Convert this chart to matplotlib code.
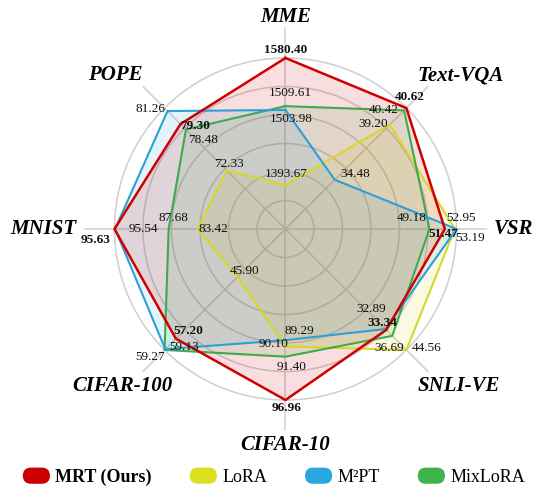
import numpy as np
import matplotlib
matplotlib.use('Agg')
import matplotlib.pyplot as plt
from matplotlib.patches import Patch, FancyBboxPatch
from matplotlib.legend_handler import HandlerPatch

plt.rcParams['font.family'] = ['Liberation Serif', 'DejaVu Serif']

# Benchmarks, clockwise from the top -----------------------------------------
categories = ['MME', 'Text-VQA', 'VSR', 'SNLI-VE', 'CIFAR-10', 'CIFAR-100', 'MNIST', 'POPE']

mrt = [1580.40, 40.62, 51.47, 33.34, 96.96, 57.20, 95.63, 79.30]
lora = [1393.67, 39.20, 52.95, 44.56, 90.10, 45.90, 83.42, 72.33]
m2pt = [1503.98, 34.48, 53.19, 32.89, 89.29, 59.13, 95.54, 81.26]
mixlora = [1509.61, 40.42, 49.18, 36.69, 91.40, 59.27, 87.68, 78.48]

method_names = ['MRT (Ours)', 'LoRA', 'M\u00b2PT', 'MixLoRA']

# every axis gets its own range, mapped onto 0..1 (outer ring)
axis_lo = [1329.0, 30.26, 27.80, -22.97, 75.03, 37.08, 70.55, 63.45]
axis_hi = [1580.40, 40.62, 53.19, 44.56, 96.96, 59.27, 95.63, 81.71]

# Styling ---------------------------------------------------------------------
series = [mrt, lora, m2pt, mixlora]
line_colors = ['#D10000', '#D9D62A', '#2C9FD8', '#3DAA4C']
face_colors = ['#CC0000', '#DCE020', '#29A8E0', '#3DB54A']
line_widths = [1.8, 1.5, 1.5, 1.5]
draw_order = [1, 3, 2, 0]

# label offsets (pixels) from each vertex, per series then per axis
label_offsets = [
    [(0, 8), (3, 11), (-2, -5), (-4, 7), (1, -8), (12, 8), (-19, -11), (15, -2)],
    [(1, 11), (-17, 1), (6, 11), (20, 2), (-12, 3), (7, 6), (16, 0), (2, 6)],
    [(6, -9), (21, 6), (14, -9), (-14, 20), (14, 9), (19, 2), (28, 0), (-17, 2)],
    [(5, 13), (-20, 0), (-18, 11), (-3, -12), (6, -10), (-14, -7), (5, 11), (17, -11)],
]
cat_offsets = [(0, 10), (32, 11), (26, 0), (31, -14), (0, -14), (-20, -14), (-40, 0), (-28, 11)]

n = len(categories)
theta = np.arange(n) * 2 * np.pi / n
lo = np.array(axis_lo)
hi = np.array(axis_hi)

def scale(vals):
    return (np.array(vals) - lo) / (hi - lo)

fig = plt.figure(figsize=(5.33, 4.90), dpi=100)
ax = fig.add_axes([0.1570, 0.1208, 0.7572, 0.8237], projection='polar')
ax.set_theta_offset(np.pi / 2)
ax.set_theta_direction(-1)
ax.set_ylim(0, 1.18)
ax.set_xticks(theta)
ax.set_xticklabels([])
ax.set_yticks(np.arange(1, 7) / 6)
ax.set_yticklabels([])
ax.grid(True, color='#CFCFCF', linewidth=1.1)
ax.spines['polar'].set_visible(False)
ax.set_axisbelow(True)

th_closed = np.append(theta, theta[0])
for i in draw_order:
    r = scale(series[i])
    r_closed = np.append(r, r[0])
    ax.fill(th_closed, r_closed, color=face_colors[i], alpha=0.13, linewidth=0, zorder=2)
for i in draw_order:
    r = scale(series[i])
    r_closed = np.append(r, r[0])
    ax.plot(th_closed, r_closed, color=line_colors[i], linewidth=line_widths[i], zorder=3)

# value labels
for i in range(len(series)):
    r = scale(series[i])
    for j in range(n):
        ax.annotate('%.2f' % series[i][j], xy=(theta[j], r[j]),
                    xytext=label_offsets[i][j], textcoords='offset pixels',
                    ha='center', va='center', fontsize=9.5,
                    fontweight='bold' if i == 0 else 'normal', color='#111111', zorder=5)

# benchmark names
for j in range(n):
    ax.annotate(categories[j], xy=(theta[j], 1.18), xytext=cat_offsets[j],
                textcoords='offset pixels', ha='center', va='center',
                fontsize=15, fontweight='bold', fontstyle='italic', annotation_clip=False)

# rounded legend keys
def make_pill(legend, orig_handle, xdescent, ydescent, width, height, fontsize):
    return FancyBboxPatch((-xdescent, -ydescent), width, height,
                          boxstyle='round,pad=0,rounding_size=%f' % (height / 2))

handles = [Patch(facecolor=c, edgecolor='none') for c in face_colors]
leg = fig.legend(handles, method_names, loc='center', bbox_to_anchor=(0.514, 0.027),
                 ncol=4, frameon=False, fontsize=13, handlelength=1.5, handleheight=1.0,
                 handletextpad=0.3, columnspacing=2.1,
                 handler_map={Patch: HandlerPatch(patch_func=make_pill)})
leg.get_texts()[0].set_fontweight('bold')

fig.savefig('out.png', dpi=100)
